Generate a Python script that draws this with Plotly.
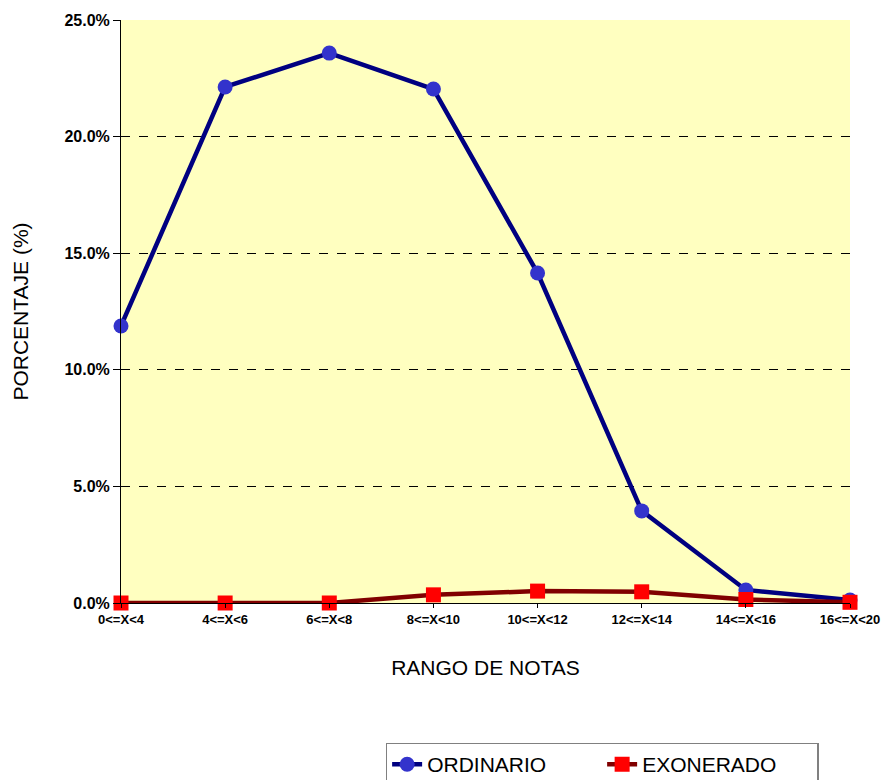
import plotly.graph_objects as go

categories = ["0<=X<4", "4<=X<6", "6<=X<8", "8<=X<10", "10<=X<12", "12<=X<14", "14<=X<16", "16<=X<20"]
ordinario = [11.88, 22.13, 23.58, 22.04, 14.15, 3.95, 0.56, 0.13]
exonerado = [0.0, 0.0, 0.0, 0.35, 0.51, 0.48, 0.15, 0.03]
y_ticks = [0, 5, 10, 15, 20, 25]
y_tick_labels = ["0.0%", "5.0%", "10.0%", "15.0%", "20.0%", "25.0%"]

fig = go.Figure()
fig.add_trace(go.Scatter(
    x=categories, y=ordinario, name="ORDINARIO", mode="lines+markers",
    line=dict(color="#000080", width=4.5),
    marker=dict(symbol="circle", size=15, color="#3333CC"),
    cliponaxis=False,
))
fig.add_trace(go.Scatter(
    x=categories, y=exonerado, name="EXONERADO", mode="lines+markers",
    line=dict(color="#800000", width=4.5),
    marker=dict(symbol="square", size=15, color="#FF0000"),
    cliponaxis=False,
))

fig.update_layout(
    width=883, height=800,
    margin=dict(l=121, r=33, t=20, b=197, autoexpand=False),
    paper_bgcolor="white",
    plot_bgcolor="#FFFFC0",
    font=dict(family="Arial, Liberation Sans, sans-serif", color="black"),
    showlegend=True,
    legend=dict(
        orientation="h", x=0.363, y=-0.2395, xanchor="left", yanchor="top",
        bordercolor="#808080", borderwidth=1.5, bgcolor="white",
        font=dict(size=21, family="Arial, Liberation Sans, sans-serif"),
        entrywidth=170, entrywidthmode="pixels", tracegroupgap=0,
    ),
    xaxis=dict(
        type="category", range=[0, 7], automargin=False,
        tickfont=dict(size=13, weight="bold"),
        ticks="outside", ticklen=4, tickcolor="black",
        showgrid=False, zeroline=False,
        showline=True, linecolor="black", linewidth=1,
        title=dict(text="RANGO DE NOTAS", font=dict(size=21), standoff=34),
    ),
    yaxis=dict(
        range=[0, 25], tickvals=y_ticks, ticktext=y_tick_labels, automargin=False,
        tickfont=dict(size=16, weight="bold"),
        ticks="outside", ticklen=7, tickcolor="black",
        showgrid=True, gridcolor="black", griddash="dash", gridwidth=1,
        zeroline=False, showline=True, linecolor="black", linewidth=1,
        title=dict(text="PORCENTAJE (%)", font=dict(size=21), standoff=30),
    ),
)

fig.write_html(
    "out.html",
    config={"displayModeBar": False},
    post_script="document.body.style.margin='0';document.body.style.overflow='hidden';",
)
